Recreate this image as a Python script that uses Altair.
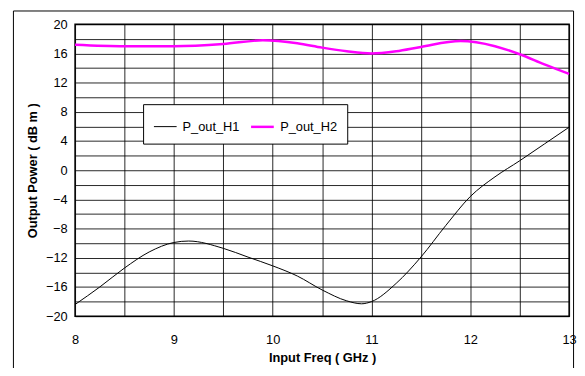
import altair as alt
import pandas as pd

# Data
freq_h1 = [8.0, 8.25, 8.5, 8.75, 9.0, 9.15, 9.5, 9.75, 10.0, 10.25, 10.5, 10.75, 10.9, 11.0, 11.25, 11.5, 11.75, 12.0, 12.25, 12.5, 12.75, 13.0]
p_out_h1 = [-18.4, -16.0, -13.4, -11.2, -9.9, -9.7, -10.7, -11.9, -13.1, -14.5, -16.4, -17.9, -18.3, -18.0, -15.5, -11.9, -7.6, -3.6, -0.9, 1.3, 3.6, 5.9]

freq_h2 = [8.0, 8.5, 9.0, 9.5, 9.9, 10.25, 10.5, 10.75, 11.0, 11.25, 11.5, 11.9, 12.25, 12.5, 12.75, 13.0]
p_out_h2 = [17.2, 17.0, 17.0, 17.3, 17.8, 17.4, 16.8, 16.3, 16.0, 16.3, 16.9, 17.7, 17.0, 15.9, 14.5, 13.2]

series_names = ["P_out_H1", "P_out_H2"]
series_colors = ["#000000", "#FF00FF"]
series_widths = [1.0, 2.5]

df = pd.concat([
    pd.DataFrame({"freq": freq_h1, "power": p_out_h1, "series": series_names[0]}),
    pd.DataFrame({"freq": freq_h2, "power": p_out_h2, "series": series_names[1]}),
])

FONT = "Liberation Sans"

x_ticks = [8 + 0.5 * i for i in range(11)]
y_ticks = [-20 + 2 * i for i in range(21)]


def make_legend():
    return alt.Legend(title=None, orient="none", legendX=69, legendY=81,
                      direction="horizontal", symbolType="stroke",
                      symbolSize=530, columnPadding=6,
                      fillColor="white", strokeColor="black",
                      padding=10, labelFontSize=13, labelFont=FONT,
                      labelColor="black", labelOffset=5)


lines = alt.Chart(df).mark_line(interpolate="monotone").encode(
    x=alt.X("freq:Q", scale=alt.Scale(domain=[8, 13], nice=False),
            axis=alt.Axis(values=x_ticks, title="Input Freq ( GHz )",
                          labelExpr="datum.value % 1 == 0 ? format(datum.value, 'd') : ''",
                          ticks=False, domain=False, labelPadding=18,
                          titlePadding=5, labelFlush=False)),
    y=alt.Y("power:Q", scale=alt.Scale(domain=[-20, 20], nice=False),
            axis=alt.Axis(values=y_ticks, title="Output Power ( dB m )",
                          labelExpr="datum.value % 4 == 0 ? datum.label : ''",
                          ticks=False, domain=False, labelPadding=8,
                          titlePadding=6)),
    color=alt.Color("series:N", scale=alt.Scale(domain=series_names, range=series_colors),
                    legend=make_legend()),
    strokeWidth=alt.StrokeWidth("series:N", scale=alt.Scale(domain=series_names, range=series_widths),
                                legend=make_legend()),
)

# Outer chart frame (decoration)
frame_data = pd.DataFrame({"k": [0]})
frame = alt.Chart(frame_data).mark_rect(
    fill="white", fillOpacity=0, stroke="black", strokeWidth=1, clip=False
).encode(x=alt.value(-62.5), x2=alt.value(505.5), y=alt.value(-13.5), y2=alt.value(380))

chart = alt.layer(frame, lines).properties(
    width=501, height=296,
    autosize=alt.AutoSizeParams(type="none"),
    padding={"left": 68, "top": 14, "right": 8, "bottom": 50},
    background="white",
).configure_view(
    stroke="black", strokeWidth=1.5
).configure_axis(
    gridColor="black", gridOpacity=0.85, gridWidth=1,
    labelFont=FONT, labelFontSize=13, labelColor="black",
    titleFont=FONT, titleFontSize=13, titleFontWeight="bold", titleColor="black",
)

chart.save("out.html", embed_options={"renderer": "svg", "actions": False})
